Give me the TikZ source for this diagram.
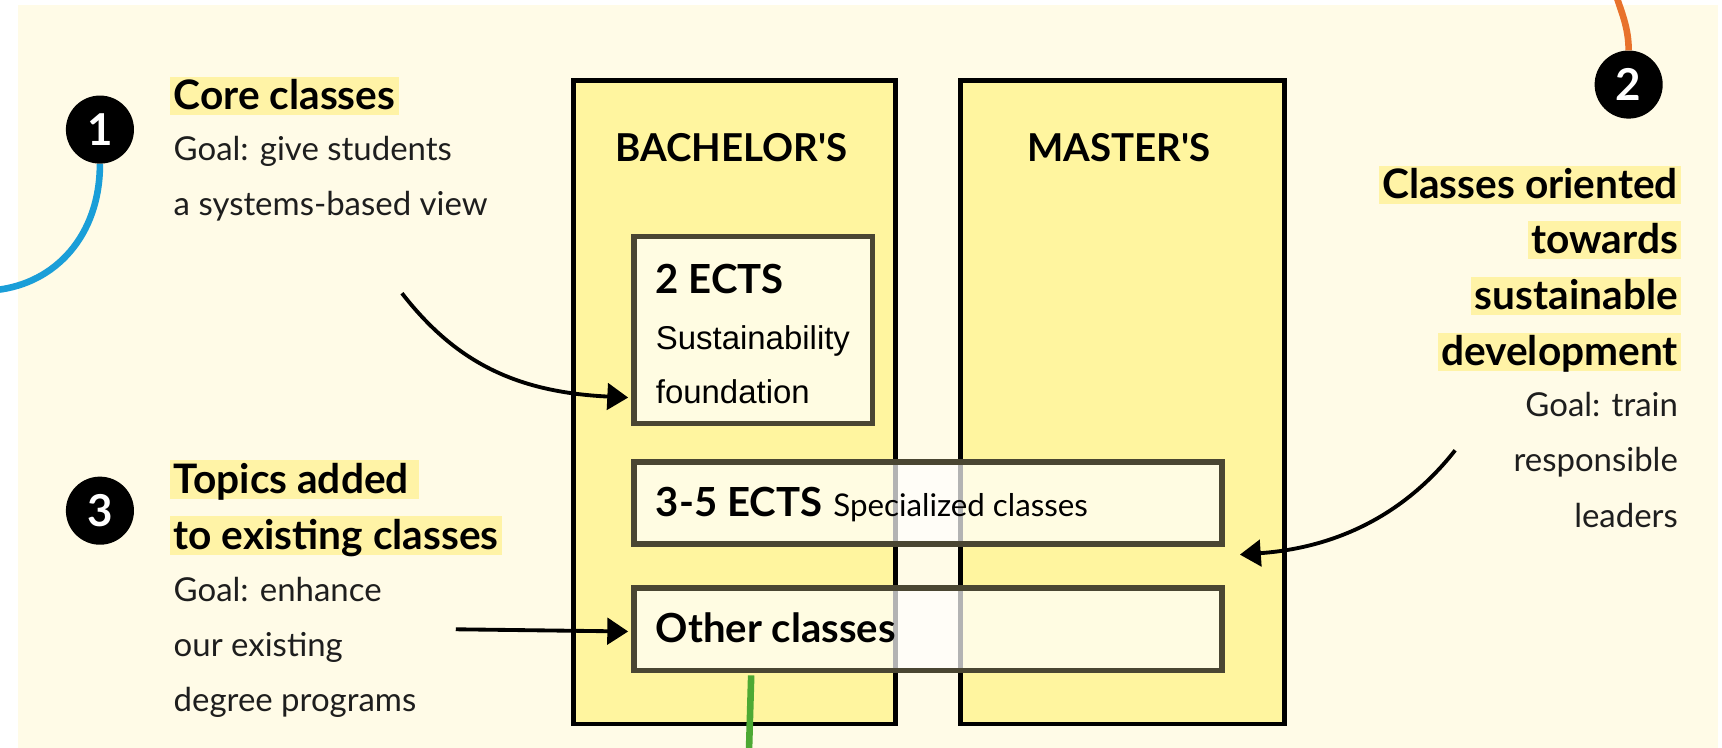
\documentclass[tikz,border=0pt]{standalone}
\usepackage{fontspec}
\setmainfont{Lato}
\newfontfamily\boxfont{Liberation Sans}
\usetikzlibrary{arrows.meta,calc}
\definecolor{cream}{HTML}{FFFBE7}
\definecolor{yel}{HTML}{FFF59F}
\definecolor{hl}{HTML}{FFF3A6}
\definecolor{olive}{HTML}{4A4632}
\definecolor{txt}{HTML}{1E1E1E}
\definecolor{blueln}{HTML}{1A9ED8}
\definecolor{orangeln}{HTML}{E8722C}
\definecolor{greenln}{HTML}{4DA933}
\begin{document}
\begin{tikzpicture}[x=1pt,y=-1pt,
  bigbox/.style={draw=black,line width=4.5pt,fill=yel,anchor=north west,inner sep=0pt},
  subbox/.style={draw=olive,line width=5pt,fill=white,fill opacity=0.7,draw opacity=1,anchor=north west,inner sep=0pt},
  head/.style={font=\fontsize{37}{40}\selectfont\bfseries,fill=hl,inner xsep=3pt,inner ysep=0pt,text height=30pt,text depth=5pt,text=black},
  body/.style={font=\fontsize{30}{36}\selectfont,text=txt,inner sep=0pt},
  boxhead/.style={font=\fontsize{36.5}{40}\selectfont\bfseries,inner sep=0pt,anchor=base west},
  boxbody/.style={font=\boxfont\fontsize{30}{36}\selectfont,inner sep=0pt,anchor=base west},
  numc/.style={circle,fill=black,minimum size=62pt,inner sep=0pt,text=white,font=\fontsize{40}{40}\selectfont\bfseries},
  arr/.style={line width=3.5pt,-{Triangle[length=19pt,width=24pt]}}]
\useasboundingbox (0,0) rectangle (1568,681);
\fill[white] (0,0) rectangle (1568,681);
\fill[cream] (16,5) rectangle (1564,681);

% big boxes
\node[bigbox,minimum width=293pt,minimum height=586pt] (bach) at (520,71) {};
\node[bigbox,minimum width=295pt,minimum height=586pt] (mast) at (872,71) {};
\node[font=\fontsize{35}{40}\selectfont\bfseries,anchor=base,inner sep=0pt] (bachl) at (666,147) {BACHELOR\textquotesingle S};
\node[font=\fontsize{35}{40}\selectfont\bfseries,anchor=base,inner sep=0pt] (mastl) at (1019,147) {MASTER\textquotesingle S};

% inner boxes
\node[subbox,minimum width=217pt,minimum height=170pt] (b2) at (575,213) {};
\node[subbox,minimum width=535pt,minimum height=75pt] (b35) at (575,418) {};
\node[subbox,minimum width=535pt,minimum height=75pt] (oth) at (575,533) {};

\node[boxhead] (e2) at (597,267) {2 ECTS};
\node[boxbody] (e2b) at (597,318) {Sustainability};
\node[boxbody] (e2c) at (597,367) {foundation};
\node[boxhead] (e35) at (597,470) {3-5 ECTS};
\node[font=\fontsize{28.5}{32}\selectfont,inner sep=0pt,anchor=base west] (spec) at ($(e35.base east)+(10,0)$) {Specialized classes};
\node[boxhead] (othl) at (597,585) {Other classes};

% numbered circles
\node[numc] (c1) at (91,118) {1};
\node[numc] (c2) at (1483,77) {2};
\node[numc] (c3) at (91,465) {3};

% left texts
\node[head,anchor=base west] (h1) at (155,100) {Core classes};
\node[body,anchor=base west] (g1a) at (158,146) {Goal: give students};
\node[body,anchor=base west] (g1b) at (158,196) {a systems-based view};

\node[head,anchor=base west] (h3a) at (155,449) {Topics added\,};
\node[head,anchor=base west] (h3b) at (155,500) {to existing classes};
\node[body,anchor=base west] (g3a) at (158,548) {Goal: enhance};
\node[body,anchor=base west] (g3b) at (158,598) {our existing};
\node[body,anchor=base west] (g3c) at (158,648) {degree programs};

% right texts
\node[head,anchor=base east] (h2a) at (1531,181) {Classes oriented};
\node[head,anchor=base east] (h2b) at (1531,231) {towards};
\node[head,anchor=base east] (h2c) at (1531,282) {sustainable};
\node[head,anchor=base east] (h2d) at (1531,333) {development};
\node[body,anchor=base east] (g2a) at (1528,379) {Goal: train};
\node[body,anchor=base east] (g2b) at (1528,429) {responsible};
\node[body,anchor=base east] (g2c) at (1528,480) {leaders};

% arrows
\coordinate (a1s) at (366,267);
\coordinate (a2s) at (1325,410);
\coordinate (a3s) at (415,573);
\draw[arr] (a1s) .. controls (415,330) and (470,357) .. ($(b2.south west)+(-3,-26)$);
\draw[arr] (a3s) -- ($(oth.west)+(-3,2)$);
\draw[arr] (a2s) .. controls (1270,480) and (1200,500) .. ($(b35.south east)+(14,7)$);

% coloured lines
\coordinate (blend) at (-3,264);
\coordinate (orend) at (1472,-3);
\coordinate (grend) at (682,684);
\draw[blueln,line width=6pt] (c1.south) .. controls (91,215) and (50,258) .. (blend);
\draw[orangeln,line width=6pt] (c2.north) .. controls (1483,25) and (1476,10) .. (orend);
\draw[greenln,line width=6pt] ($(oth.south west)+(109,2)$) -- (grend);
\end{tikzpicture}
\end{document}
